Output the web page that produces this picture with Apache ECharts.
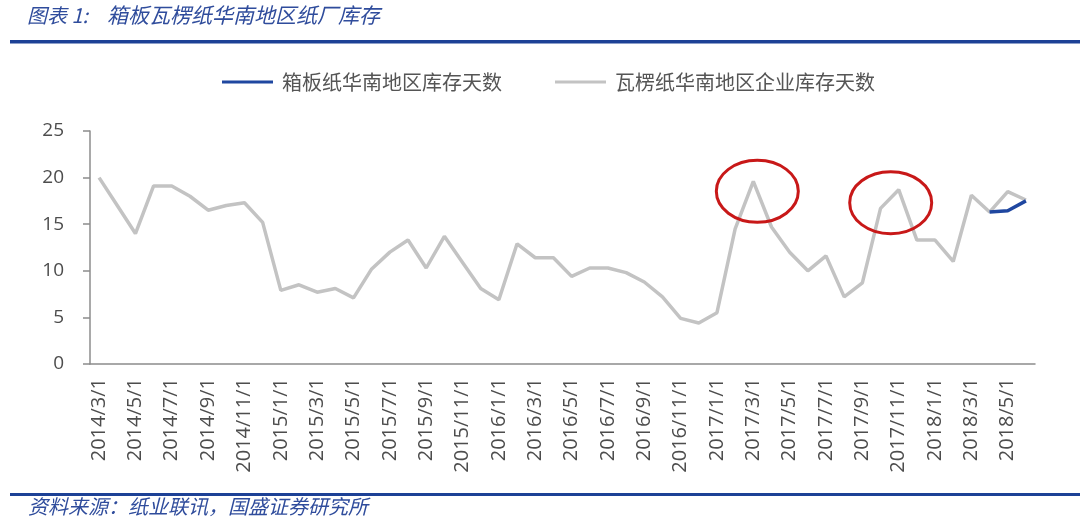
<!DOCTYPE html>
<html><head><meta charset="utf-8">
<script src="https://cdn.jsdelivr.net/npm/echarts@6/dist/echarts.min.js"></script>
<style>html,body{margin:0;padding:0;background:#fff;}#c{width:1080px;height:523px;}</style>
</head><body><div id="c"></div>
<script>
// categories: monthly 2014/3 .. 2018/6
const categories = [
 '2014/3/1','2014/4/1','2014/5/1','2014/6/1','2014/7/1','2014/8/1','2014/9/1','2014/10/1','2014/11/1','2014/12/1',
 '2015/1/1','2015/2/1','2015/3/1','2015/4/1','2015/5/1','2015/6/1','2015/7/1','2015/8/1','2015/9/1','2015/10/1','2015/11/1','2015/12/1',
 '2016/1/1','2016/2/1','2016/3/1','2016/4/1','2016/5/1','2016/6/1','2016/7/1','2016/8/1','2016/9/1','2016/10/1','2016/11/1','2016/12/1',
 '2017/1/1','2017/2/1','2017/3/1','2017/4/1','2017/5/1','2017/6/1','2017/7/1','2017/8/1','2017/9/1','2017/10/1','2017/11/1','2017/12/1',
 '2018/1/1','2018/2/1','2018/3/1','2018/4/1','2018/5/1','2018/6/1'
];
const corrugatedSouth = [
 20.0,17.0,14.0,19.1,19.1,18.0,16.5,17.0,17.3,15.2,
 7.9,8.5,7.7,8.1,7.1,10.2,12.0,13.3,10.3,13.7,10.9,8.1,
 6.9,12.9,11.4,11.4,9.4,10.3,10.3,9.8,8.8,7.2,4.9,4.4,
 5.5,14.5,19.6,14.7,12.0,10.0,11.6,7.2,8.7,16.7,18.7,13.3,
 13.3,11.0,18.1,16.3,18.5,17.6
];
const boxboardSouth = [
 null,null,null,null,null,null,null,null,null,null,
 null,null,null,null,null,null,null,null,null,null,null,null,
 null,null,null,null,null,null,null,null,null,null,null,null,
 null,null,null,null,null,null,null,null,null,null,null,null,
 null,null,null,16.3,16.45,17.5
];
const yTicks = {min:0, max:25, interval:5};
const seriesNames = ['箱板纸华南地区库存天数','瓦楞纸华南地区企业库存天数'];
const highlightPoints = [[36,19.6],[44,18.7]];

const chart = echarts.init(document.getElementById('c'));
const cjk = '"Noto Sans CJK SC", sans-serif';
const num = '"Open Sans", sans-serif';
const option = {
  backgroundColor:'#fff',
  animation:false,
  grid:{left:90,right:45,top:131,bottom:159,containLabel:false},
  legend:{
    data:seriesNames, top:67, left:217, itemWidth:51, itemHeight:3, itemGap:53,
    icon:'rect',
    textStyle:{fontFamily:cjk,fontSize:20,color:'#555',padding:[0,0,0,4]}
  },
  xAxis:{
    type:'category', data:categories, boundaryGap:true,
    axisLine:{lineStyle:{color:'#8c8c8c',width:1.5}},
    axisTick:{interval:1,length:6,lineStyle:{color:'#8c8c8c',width:1.5}},
    axisLabel:{interval:1,rotate:90,margin:14,fontFamily:num,fontSize:20,color:'#4d4d4d'}
  },
  yAxis:{
    type:'value', min:yTicks.min, max:yTicks.max, interval:yTicks.interval,
    axisLine:{show:true,lineStyle:{color:'#8c8c8c',width:1.5}},
    axisTick:{show:true,length:7,lineStyle:{color:'#8c8c8c',width:1.5}},
    splitLine:{show:false},
    axisLabel:{margin:26,fontFamily:num,fontSize:19,color:'#4d4d4d'}
  },
  series:[
    {name:seriesNames[1],type:'line',data:corrugatedSouth,symbol:'none',
     lineStyle:{color:'#c3c3c3',width:3.5},itemStyle:{color:'#c3c3c3'}},
    {name:seriesNames[0],type:'line',data:boxboardSouth,symbol:'none',connectNulls:false,
     lineStyle:{color:'#1f47a0',width:3.5},itemStyle:{color:'#1f47a0'}}
  ]
};
chart.setOption(option);

function addGraphics(){
  const offsets=[[4,10],[-8,13]];
  const ellipses = highlightPoints.map((p,k)=>{
    const px = chart.convertToPixel({xAxisIndex:0,yAxisIndex:0},p);
    return {type:'ellipse',shape:{cx:px[0]+offsets[k][0],cy:px[1]+offsets[k][1],rx:41,ry:31},
      style:{fill:null,stroke:'#c81818',lineWidth:3},z:100};
  });
  chart.setOption({graphic:[
    {type:'text',left:27,top:5,style:{text:'图表 1:',fill:'#2f4c9c',font:'italic 20px '+cjk}},
    {type:'text',left:107,top:5,style:{text:'箱板瓦楞纸华南地区纸厂库存',fill:'#2f4c9c',font:'italic 21px '+cjk}},
    {type:'rect',shape:{x:10,y:40,width:1070,height:3.5},style:{fill:'#1d4196'}},
    {type:'rect',shape:{x:10,y:493,width:1070,height:3},style:{fill:'#1d4196'}},
    {type:'text',left:28,top:496,style:{text:'资料来源：纸业联讯，国盛证券研究所',fill:'#2f4c9c',
      font:'italic 20px '+cjk}}
  ].concat(ellipses)});
}
addGraphics();
</script></body></html>
